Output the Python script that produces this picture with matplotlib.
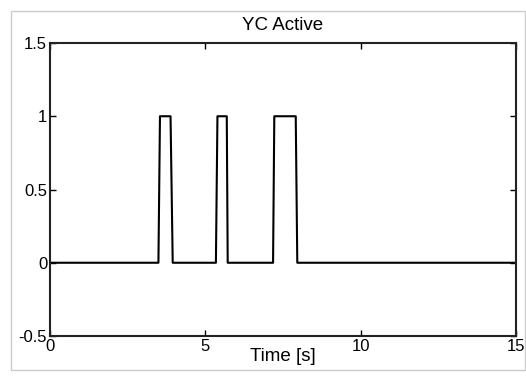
import numpy as np
import matplotlib
matplotlib.use('Agg')
import matplotlib.pyplot as plt
from matplotlib.patches import Rectangle

plt.rcParams['font.family'] = ['Liberation Sans', 'DejaVu Sans']

# YC active signal (sampled step signal)
t = [0.0, 3.49, 3.54, 3.88, 3.95, 5.34, 5.39, 5.69, 5.72, 7.18, 7.22, 7.91, 7.96, 15.0]
yc = [0, 0, 1, 1, 0, 0, 1, 1, 0, 0, 1, 1, 0, 0]

xticks = [0, 5, 10, 15]
yticks = [-0.5, 0, 0.5, 1, 1.5]

fig = plt.figure(figsize=(5.26, 3.81), dpi=100)
ax = fig.add_axes([50 / 526, 1 - 336 / 381, 466 / 526, 293 / 381])

ax.plot(t, yc, color='black', lw=1.5)
ax.set_xlim(0, 15)
ax.set_ylim(-0.5, 1.5)
ax.set_xticks(xticks)
ax.set_yticks(yticks)
ax.set_xticklabels(['0', '5', '10', '15'])
ax.set_yticklabels(['-0.5', '0', '0.5', '1', '1.5'])
ax.tick_params(direction='in', top=True, right=True, length=4, width=1,
               labelsize=12, color='black')
ax.tick_params(axis='x', pad=2)
ax.tick_params(axis='y', pad=2)
for s in ax.spines.values():
    s.set_linewidth(1.5)
    s.set_color('#222222')

ax.set_title('YC Active', fontsize=13.5, pad=9)
ax.set_xlabel('Time [s]', fontsize=13.5, labelpad=-4)

# light frame around the figure
fig.patches.append(Rectangle((11 / 526, 1 - 370 / 381), 514 / 526, 359 / 381,
                             transform=fig.transFigure, fill=False,
                             edgecolor='#cccccc', lw=1))

fig.savefig('out.png', dpi=100)
